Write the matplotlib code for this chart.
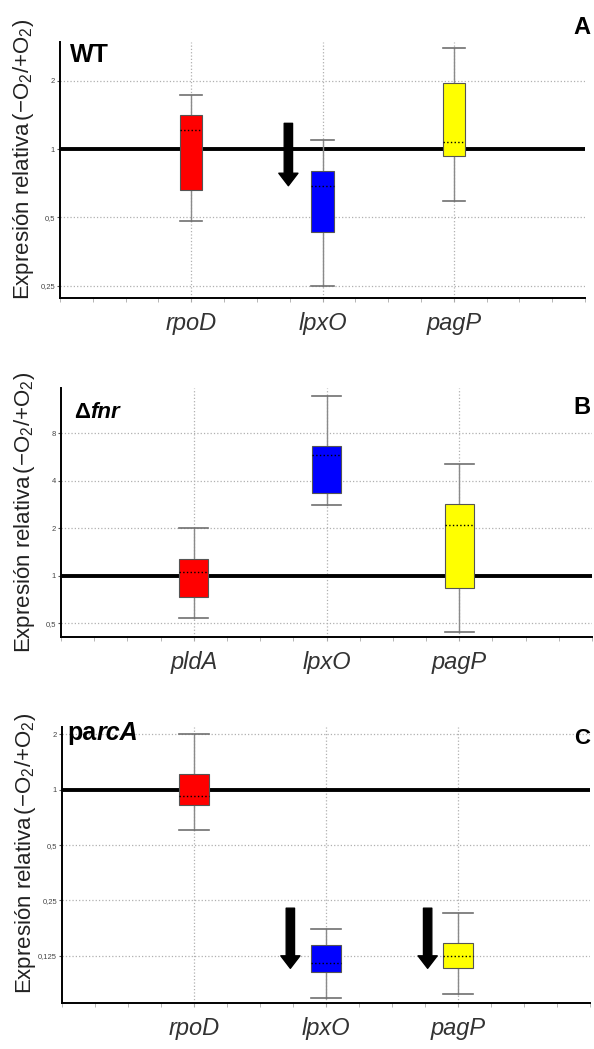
import matplotlib
matplotlib.use('Agg')
import matplotlib.pyplot as plt

plt.rcParams['font.family'] = ['Liberation Sans', 'DejaVu Sans']
plt.rcParams['mathtext.fontset'] = 'custom'
plt.rcParams['mathtext.rm'] = 'Liberation Sans'
plt.rcParams['mathtext.it'] = 'Liberation Sans:italic'

# datos de las tres figuras (A, B, C)
genes_a = ['rpoD', 'lpxO', 'pagP']
genes_b = ['pldA', 'lpxO', 'pagP']
genes_c = ['rpoD', 'lpxO', 'pagP']
colors = ['#ff0000', '#0000ff', '#ffff00']

# bigote inferior, Q1, mediana, Q3, bigote superior
whislo_a = [0.48, 0.25, 0.59]
q1_a = [0.66, 0.43, 0.93]
med_a = [1.22, 0.69, 1.08]
q3_a = [1.41, 0.80, 1.95]
whishi_a = [1.73, 1.10, 2.79]

whislo_b = [0.54, 2.82, 0.44]
q1_b = [0.73, 3.36, 0.83]
med_b = [1.06, 5.8, 2.1]
q3_b = [1.27, 6.6, 2.86]
whishi_b = [2.0, 13.8, 5.1]

whislo_c = [0.60, 0.074, 0.078]
q1_c = [0.83, 0.102, 0.107]
med_c = [0.92, 0.114, 0.125]
q3_c = [1.21, 0.144, 0.146]
whishi_c = [2.0, 0.176, 0.215]

yticks_a = [0.25, 0.5, 1, 2]
yticklabels_a = ['0,25', '0,5', '1', '2']
yticks_b = [0.5, 1, 2, 4, 8]
yticklabels_b = ['0,5', '1', '2', '4', '8']
yticks_c = [0.125, 0.25, 0.5, 1, 2]
yticklabels_c = ['0,125', '0,25', '0,5', '1', '2']

W, H = 594, 1049
fig = plt.figure(figsize=(W / 100, H / 100), dpi=100)


def make_axes(left, right, top, bottom):
    return fig.add_axes([left / W, 1 - bottom / H, (right - left) / W, (bottom - top) / H])


def draw_panel(ax, genes, lo, q1, med, q3, hi, width, ylim, yticks, yticklabels, label_y):
    stats = []
    for i in range(len(genes)):
        stats.append(dict(whislo=lo[i], q1=q1[i], med=med[i], q3=q3[i], whishi=hi[i], label=genes[i]))
    pos = [1, 2, 3]
    bp = ax.bxp(stats, positions=pos, widths=width, capwidths=width, patch_artist=True,
                showfliers=False,
                boxprops=dict(edgecolor='#555555', linewidth=0.8, zorder=4),
                whiskerprops=dict(color='#8a8a8a', linewidth=1.0, zorder=3),
                capprops=dict(color='#707070', linewidth=1.2, zorder=3),
                medianprops=dict(color='black', linestyle=':', linewidth=1.0, zorder=5))
    for patch, c in zip(bp['boxes'], colors):
        patch.set_facecolor(c)

    ax.axhline(1, color='black', linewidth=2.8, zorder=2)

    ax.set_yscale('log', base=2)
    ax.set_ylim(ylim)
    ax.set_yticks(yticks)
    ax.set_yticklabels(yticklabels)
    ax.yaxis.set_minor_locator(matplotlib.ticker.NullLocator())
    ax.set_xlim(0, 4)
    ax.set_xticks(pos)
    ax.set_xticklabels(genes, fontsize=17, style='italic', color='#333333')
    ax.set_xticks([0.25 * k for k in range(17)], minor=True)

    ax.grid(True, which='major', color='#b0b0b0', linestyle=':', linewidth=0.9, zorder=0)
    ax.set_axisbelow(True)
    for s in ['top', 'right']:
        ax.spines[s].set_visible(False)
    ax.spines['left'].set_linewidth(1.4)
    ax.spines['bottom'].set_linewidth(1.4)
    ax.tick_params(axis='y', labelsize=5.5, length=2, color='#555555', labelcolor='#444444', pad=1.5)
    ax.tick_params(axis='x', which='major', length=3, color='#aaaaaa', pad=7)
    ax.tick_params(axis='x', which='minor', length=3, color='#aaaaaa')

    ax.set_ylabel(r'Expresión relativa$\,$(−O$_2$/+O$_2$)', fontsize=16, color='#222222')
    ax.yaxis.set_label_coords(-0.045, label_y)


def down_arrow(ax, x, y0, y1):
    ax.annotate('', xy=(x, y1), xytext=(x, y0),
                arrowprops=dict(arrowstyle='simple,head_length=0.75,head_width=1.15,tail_width=0.5',
                                fc='black', ec='black', mutation_scale=12,
                                shrinkA=0, shrinkB=0), zorder=6)


def two_part_label(x, y, first, second, size, style2):
    renderer = fig.canvas.get_renderer()
    t = fig.text(x / W, 1 - y / H, first, fontsize=size, fontweight='bold', va='center')
    bb = t.get_window_extent(renderer)
    fig.text(bb.x1 / W, 1 - y / H, second, fontsize=size, fontweight='bold', style=style2, va='center')


ax_a = make_axes(60, 585, 42, 298)
draw_panel(ax_a, genes_a, whislo_a, q1_a, med_a, q3_a, whishi_a, 0.17,
           (2 ** -2.18, 2 ** 1.57), yticks_a, yticklabels_a, 0.54)
down_arrow(ax_a, 1.74, 1.30, 0.69)

ax_b = make_axes(61, 592, 388, 637)
draw_panel(ax_b, genes_b, whislo_b, q1_b, med_b, q3_b, whishi_b, 0.22,
           (2 ** -1.29, 2 ** 3.95), yticks_b, yticklabels_b, 0.5)

ax_c = make_axes(62, 590, 727, 1003)
draw_panel(ax_c, genes_c, whislo_c, q1_c, med_c, q3_c, whishi_c, 0.22,
           (2 ** -3.85, 2 ** 1.13), yticks_c, yticklabels_c, 0.54)
down_arrow(ax_c, 1.73, 0.227, 0.107)
down_arrow(ax_c, 2.77, 0.227, 0.107)

# etiquetas de cada panel
fig.text(70 / W, 1 - 55 / H, 'WT', fontsize=18, fontweight='bold', va='center')
fig.text(582 / W, 1 - 28 / H, 'A', fontsize=17, fontweight='bold', ha='center', va='center')
two_part_label(74, 412, 'Δ', 'fnr', 16, 'italic')
fig.text(582 / W, 1 - 407 / H, 'B', fontsize=17, fontweight='bold', ha='center', va='center')
two_part_label(67, 733, 'pa', 'rcA', 18, 'italic')
fig.text(582 / W, 1 - 738 / H, 'C', fontsize=16, fontweight='bold', ha='center', va='center')

fig.savefig('out.png', dpi=100)
